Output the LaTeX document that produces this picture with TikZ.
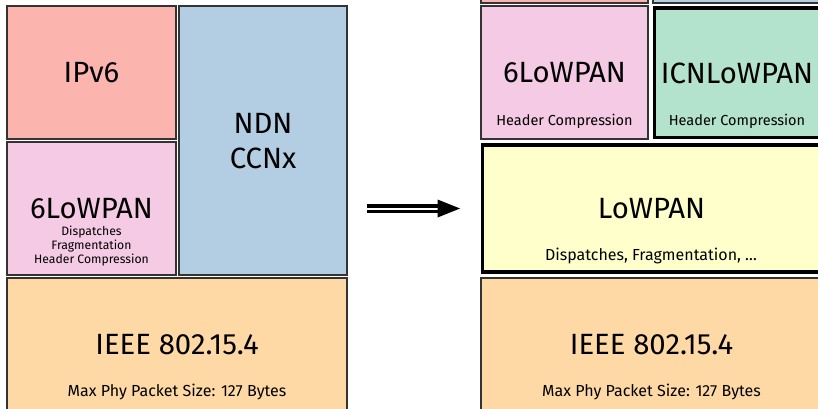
\documentclass[tikz,border=0pt]{standalone}
\usepackage{fontspec}
\setmainfont{Fira Sans}
\usetikzlibrary{fit}
\definecolor{csalmon}{HTML}{FBB4AE}
\definecolor{cblue}{HTML}{B3CDE3}
\definecolor{cpink}{HTML}{F4CAE4}
\definecolor{cgreen}{HTML}{B3E2CD}
\definecolor{corange}{HTML}{FED9A6}
\definecolor{cyellow}{HTML}{FFFFCC}
\begin{document}
\begin{tikzpicture}[x=1pt,y=-1pt,
  box/.style={draw=black!80, line width=1.3pt, inner sep=0pt},
  thickbox/.style={draw=black, line width=3.5pt, inner sep=0pt},
  big/.style={font=\fontsize{29.3}{35}\selectfont, align=center, inner sep=0pt},
  small/.style={font=\fontsize{14.5}{17}\selectfont, inner sep=0pt},
  note/.style={font=\fontsize{16}{19}\selectfont, inner sep=0pt},
  tiny/.style={font=\fontsize{12.2}{14}\selectfont, align=center, inner sep=0pt}]
\useasboundingbox (0,0) rectangle (818,409);
\clip (0,0) rectangle (818,409);
% corner coordinates
\coordinate (a1) at (7,6);     \coordinate (a2) at (176,139);
\coordinate (b1) at (179,6);   \coordinate (b2) at (347,275);
\coordinate (c1) at (7,142);   \coordinate (c2) at (176,275);
\coordinate (d1) at (7,278);   \coordinate (d2) at (347,420);
\coordinate (e1) at (481,-130); \coordinate (e2) at (648,3);
\coordinate (f1) at (653,-130); \coordinate (f2) at (821,3);
\coordinate (g1) at (481,6);   \coordinate (g2) at (648,139);
\coordinate (h1) at (654.5,8); \coordinate (h2) at (820,137.5);
\coordinate (i1) at (482.5,145); \coordinate (i2) at (820,272);
\coordinate (j1) at (481,278); \coordinate (j2) at (821,420);
% left stack
\node[box, fill=csalmon, fit=(a1)(a2)] (ipv6) {};
\node[big] (ipv6l) at (ipv6.center) {IPv6};
\node[box, fill=cblue, fit=(b1)(b2)] (ndn) {};
\node[big] (ndnl) at (263,141.5) {NDN\\CCNx};
\node[box, fill=cpink, fit=(c1)(c2)] (lo6) {};
\node[big] (lo6l) at (91.5,209) {6LoWPAN};
\node[tiny] (lo6s) at (91.5,246) {Dispatches\\Fragmentation\\Header Compression};
\node[box, fill=corange, fit=(d1)(d2)] (ieee) {};
\node[big] (ieeel) at (177,345) {IEEE 802.15.4};
\node[note] (ieees) at (177,392) {Max Phy Packet Size: 127 Bytes};
% arrow
\coordinate (as) at (367,208.5);
\coordinate (ah) at (438,208.5);
\coordinate (ae) at (460,208.5);
\draw[line width=3.8pt, double=white, double distance=2pt] (as) -- (ah);
\fill[black] (437.5,199.5) -- (ae) -- (437.5,217.5) -- cycle;
% right stack
\node[box, fill=csalmon, fit=(e1)(e2)] (ipv6r) {};
\node[box, fill=cblue, fit=(f1)(f2)] (ndnr) {};
\node[box, fill=cpink, fit=(g1)(g2)] (lo6r) {};
\node[big] (lo6rl) at (564.5,73) {6LoWPAN};
\node[small] (lo6rs) at (564.5,121) {Header Compression};
\node[thickbox, fill=cgreen, fit=(h1)(h2)] (icn) {};
\node[big] (icnl) at (737,73) {ICNLoWPAN};
\node[small] (icns) at (737,121) {Header Compression};
\node[thickbox, fill=cyellow, fit=(i1)(i2)] (lowpan) {};
\node[big] (lowpanl) at (651.5,209) {LoWPAN};
\node[note] (lowpans) at (651,256) {Dispatches, Fragmentation, \dots};
\node[box, fill=corange, fit=(j1)(j2)] (ieeer) {};
\node[big] (ieeerl) at (651.5,345) {IEEE 802.15.4};
\node[note] (ieeers) at (651.5,392) {Max Phy Packet Size: 127 Bytes};
\end{tikzpicture}
\end{document}
